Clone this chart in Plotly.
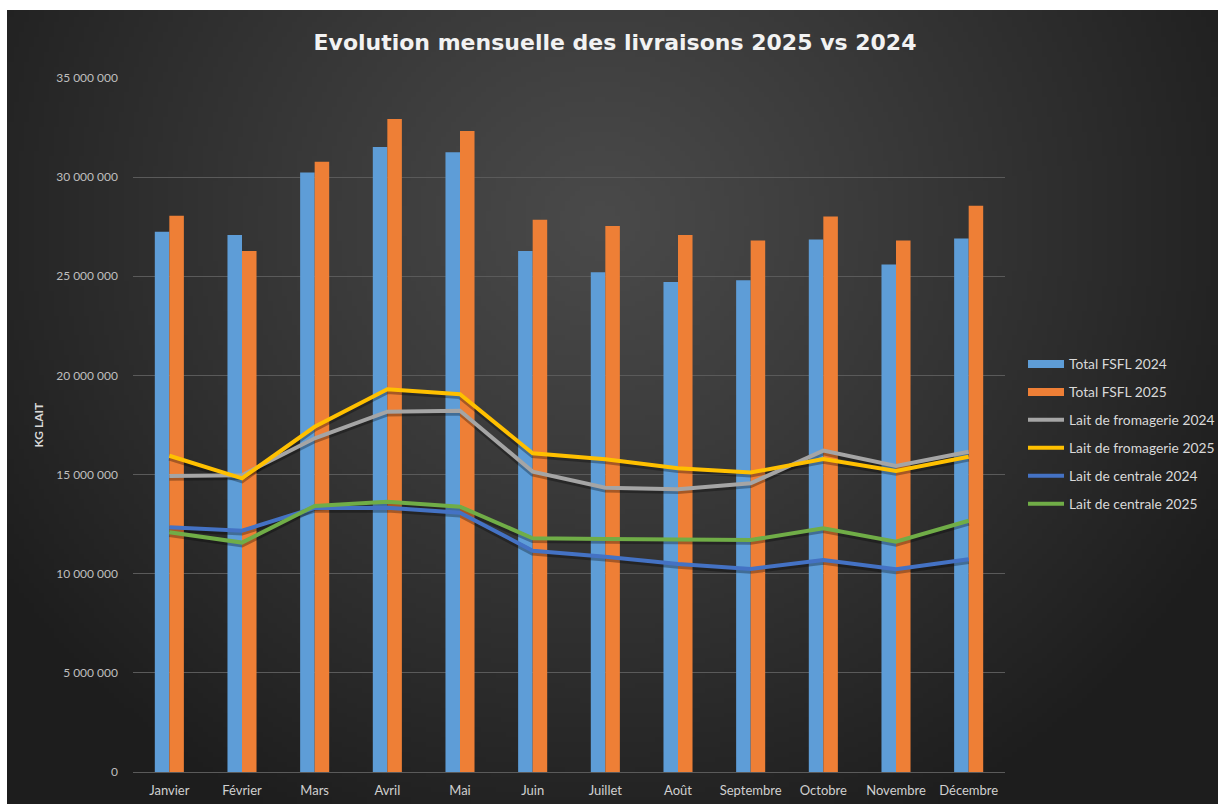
import base64, struct, zlib
import numpy as np
import plotly.graph_objects as go

months = ["Janvier", "Février", "Mars", "Avril", "Mai", "Juin", "Juillet",
          "Août", "Septembre", "Octobre", "Novembre", "Décembre"]
total_2024 = [27.25e6, 27.08e6, 30.24e6, 31.52e6, 31.25e6, 26.28e6, 25.20e6,
              24.71e6, 24.80e6, 26.86e6, 25.59e6, 26.91e6]
total_2025 = [28.05e6, 26.28e6, 30.78e6, 32.93e6, 32.33e6, 27.85e6, 27.54e6,
              27.08e6, 26.81e6, 28.02e6, 26.81e6, 28.56e6]
fromagerie_2024 = [14.93e6, 14.97e6, 16.83e6, 18.17e6, 18.22e6, 15.15e6, 14.34e6,
                   14.26e6, 14.56e6, 16.21e6, 15.43e6, 16.15e6]
fromagerie_2025 = [15.95e6, 14.81e6, 17.41e6, 19.30e6, 19.05e6, 16.07e6, 15.77e6,
                   15.32e6, 15.10e6, 15.79e6, 15.18e6, 15.90e6]
centrale_2024 = [12.34e6, 12.17e6, 13.32e6, 13.33e6, 13.08e6, 11.16e6, 10.86e6,
                 10.49e6, 10.24e6, 10.69e6, 10.22e6, 10.73e6]
centrale_2025 = [12.09e6, 11.57e6, 13.42e6, 13.63e6, 13.38e6, 11.79e6, 11.75e6,
                 11.74e6, 11.70e6, 12.29e6, 11.61e6, 12.67e6]
y_ticks = [0, 5e6, 10e6, 15e6, 20e6, 25e6, 30e6, 35e6]


def gradient_png(w, h):
    # radial dark gradient background (Excel dark style)
    xs = np.linspace(7, 1218, w)
    ys = np.linspace(10, 804, h)
    X, Y = np.meshgrid(xs, ys)
    d = np.sqrt(((X - 600) / 720.0) ** 2 + ((Y - 220) / 680.0) ** 2)
    t = np.clip(d, 0, 1) ** 1.1
    v = (74 * (1 - t) + 29 * t).astype(np.uint8)
    rgb = np.stack([v, v, v], axis=-1)
    raw = b"".join(b"\x00" + rgb[i].tobytes() for i in range(h))

    def chunk(tag, data):
        c = struct.pack(">I", len(data)) + tag + data
        return c + struct.pack(">I", zlib.crc32(tag + data) & 0xFFFFFFFF)

    png = b"\x89PNG\r\n\x1a\n"
    png += chunk(b"IHDR", struct.pack(">IIBBBBB", w, h, 8, 2, 0, 0, 0))
    png += chunk(b"IDAT", zlib.compress(raw, 9))
    png += chunk(b"IEND", b"")
    return "data:image/png;base64," + base64.b64encode(png).decode()


BLUE_BAR, ORANGE_BAR = "#5E9DD7", "#EE7F36"

fig = go.Figure()
fig.add_trace(go.Bar(x=months, y=total_2024, name="Total FSFL 2024",
                     marker=dict(color=BLUE_BAR, line=dict(width=0)),
                     showlegend=False))
fig.add_trace(go.Bar(x=months, y=total_2025, name="Total FSFL 2025",
                     marker=dict(color=ORANGE_BAR, line=dict(width=0)),
                     showlegend=False))
# legend keys for the bars (wide rectangles as in the original)
for name, col, grp in [("Total FSFL 2024", BLUE_BAR, "a"), ("Total FSFL 2025", ORANGE_BAR, "b")]:
    fig.add_trace(go.Scatter(x=[None], y=[None], name=name, mode="lines",
                             line=dict(color=col, width=8), legendgroup=grp,
                             hoverinfo="skip"))

line_series = [
    (fromagerie_2024, "Lait de fromagerie 2024", "#A5A5A5", "c"),
    (fromagerie_2025, "Lait de fromagerie 2025", "#FFC000", "d"),
    (centrale_2024, "Lait de centrale 2024", "#4472C4", "e"),
    (centrale_2025, "Lait de centrale 2025", "#70AD47", "f"),
]
# soft shadows under the lines
for vals, name, col, grp in line_series:
    fig.add_trace(go.Scatter(x=months, y=[v - 0.09e6 for v in vals], mode="lines",
                             line=dict(color="rgba(0,0,0,0.3)", width=6),
                             showlegend=False, hoverinfo="skip"))
for vals, name, col, grp in line_series:
    fig.add_trace(go.Scatter(x=months, y=vals, name=name, mode="lines",
                             line=dict(color=col, width=4),
                             legendgroup=grp))

L, R, T, B = 133, 1005, 78, 772
W, H = 1218, 804
pw, ph = R - L, B - T

fig.update_layout(
    width=W, height=H, autosize=False,
    margin=dict(l=L, r=W - R, t=T, b=H - B, pad=0, autoexpand=False),
    paper_bgcolor="white",
    plot_bgcolor="rgba(0,0,0,0)",
    separators=", ",
    barmode="group", bargap=0.6, bargroupgap=0,
    font=dict(family="Lato", color="#BFBFBF"),
    title=dict(text="Evolution mensuelle des livraisons 2025 vs 2024",
               x=615 / W, xref="container", xanchor="center",
               y=1 - 42 / H, yref="container", yanchor="middle",
               font=dict(family="DejaVu Sans", size=22, color="#F2F2F2", weight="bold")),
    legend=dict(xref="container", yref="container",
                x=1023 / W, xanchor="left", y=1 - 434 / H, yanchor="middle",
                font=dict(family="Lato", size=13.8, color="#D9D9D9"),
                bgcolor="rgba(0,0,0,0)", tracegroupgap=7, itemwidth=36,
                traceorder="grouped"),
    images=[dict(source=gradient_png(244, 160), xref="paper", yref="paper",
                 x=(7 - L) / pw, y=(B - 10) / ph,
                 sizex=(W - 7) / pw, sizey=(H - 10) / ph,
                 xanchor="left", yanchor="top", sizing="stretch", layer="below")],
    annotations=[dict(text="<b>KG LAIT</b>", xref="paper", yref="paper",
                      x=(28 - L) / pw, y=(B - 425) / ph, showarrow=False,
                      textangle=-90, font=dict(family="Lato", size=12, color="#D9D9D9"))],
    showlegend=True,
)
fig.update_xaxes(showgrid=False, showline=True, linecolor="#5A5A5A", linewidth=1,
                 ticks="", tickfont=dict(family="Lato", size=13, color="#D0D0D0"),
                 ticklabelstandoff=6, automargin=False)
fig.update_yaxes(range=[0, 35e6], tickvals=y_ticks, tickformat=",d",
                 showgrid=True, gridcolor="#5A5A5A", gridwidth=1,
                 zeroline=False, showline=False, ticks="",
                 tickfont=dict(family="Lato", size=12, color="#BFBFBF"),
                 ticklabelstandoff=14, automargin=False)

fig.write_html("out.html", config={"responsive": False, "displayModeBar": False},
               post_script="document.body.style.margin='0';document.body.style.overflow='hidden';")
